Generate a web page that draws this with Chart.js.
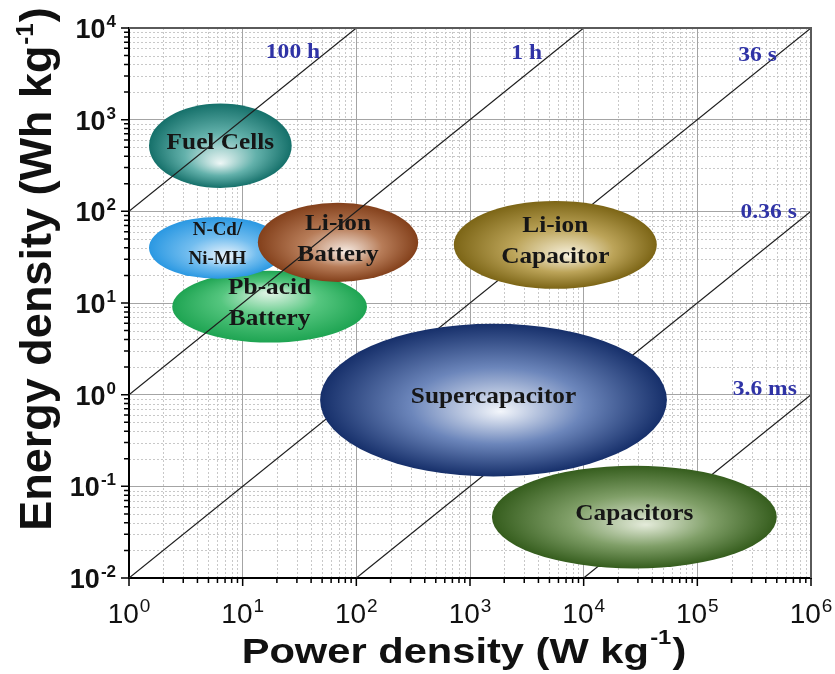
<!DOCTYPE html>
<html>
<head>
<meta charset="utf-8">
<title>Ragone plot</title>
<script src="https://cdn.jsdelivr.net/npm/chart.js@4.4.0/dist/chart.umd.min.js"></script>
<style>
  html, body { margin: 0; padding: 0; background: #fff; }
  #ragone { display: block; }
</style>
</head>
<body>
<canvas id="ragone" width="835" height="674"></canvas>
<script>
// ---- axes ----
const xDecades = [1, 10, 100, 1e3, 1e4, 1e5, 1e6];
const xTickExp = ['0', '1', '2', '3', '4', '5', '6'];
const yDecades = [0.01, 0.1, 1, 10, 100, 1e3, 1e4];
const yTickExp = ['-2', '-1', '0', '1', '2', '3', '4'];

// ---- constant discharge time lines (W/kg , Wh/kg) ----
const timeLabels = ['100 h', '1 h', '36 s', '0.36 s', '3.6 ms'];
const lineStartP = [1, 1, 1, 100, 1e4];
const lineStartE = [100, 1, 0.01, 0.01, 0.01];
const lineEndP   = [100, 1e4, 1e6, 1e6, 1e6];
const lineEndE   = [1e4, 1e4, 1e4, 100, 1];
// anchor of each time label (right edge, middle)
const timeLabelP = [48, 4300, 5e5, 7.5e5, 7.5e5];
const timeLabelE = [5400, 5200, 4950, 96, 1.13];

// ---- device regions (ellipse extents) ----
const devices   = ['Fuel Cells', 'Pb-acid Battery', 'N-Cd/Ni-MH', 'Li-ion Battery', 'Li-ion Capacitor', 'Supercapacitor', 'Capacitors'];
const devLabels = [['Fuel Cells'], ['Pb-acid', 'Battery'], ['N-Cd/', 'Ni-MH'], ['Li-ion', 'Battery'], ['Li-ion', 'Capacitor'], ['Supercapacitor'], ['Capacitors']];
const powerMin  = [1.5, 2.4, 1.5, 13.6, 720, 48, 1560];
const powerMax  = [27, 124, 24, 350, 44000, 54000, 5e5];
const energyMin = [180, 3.7, 18.4, 17, 14.3, 0.128, 0.0127];
const energyMax = [1500, 22.5, 87, 124, 130, 5.95, 0.168];

// looks (same order as devices)
const devStyle = [
  { core: '#eef7f6', mid: '#63b1ab', edge: '#15706a', fx: 0.0, fy: 0.42, front: false },
  { core: '#e6f6ea', mid: '#55c67f', edge: '#1ea452', fx: 0.0, fy: -0.4, front: false },
  { core: '#f3f8fd', mid: '#72bdef', edge: '#2a98e2', fx: 0.15, fy: 0.3, front: false },
  { core: '#f7ece4', mid: '#b77c58', edge: '#83401b', fx: 0.1, fy: 0.25, front: false },
  { core: '#f9f3e0', mid: '#bca459', edge: '#7c6516', fx: 0.15, fy: 0.25, front: true },
  { core: '#f3f6fb', mid: '#6c86bb', edge: '#162f6a', fx: 0.04, fy: 0.15, front: true },
  { core: '#e4ebda', mid: '#809f68', edge: '#355d1d', fx: 0.08, fy: 0.15, front: true }
];

const TXT_SERIF = '"Liberation Serif", "Times New Roman", serif';
const TXT_SANS = '"Liberation Sans", Arial, sans-serif';

function stretchText(ctx, txt, x, y, sx) {
  ctx.save();
  ctx.translate(x, y);
  ctx.scale(sx, 1);
  ctx.fillText(txt, 0, 0);
  ctx.restore();
}

function drawDevice(chart, i) {
  const ctx = chart.ctx, xs = chart.scales.x, ys = chart.scales.y;
  const x1 = xs.getPixelForValue(powerMin[i]), x2 = xs.getPixelForValue(powerMax[i]);
  const y1 = ys.getPixelForValue(energyMax[i]), y2 = ys.getPixelForValue(energyMin[i]);
  const cx = (x1 + x2) / 2, cy = (y1 + y2) / 2;
  const rx = (x2 - x1) / 2, ry = (y2 - y1) / 2;
  const st = devStyle[i];

  ctx.save();
  ctx.translate(cx, cy);
  ctx.scale(rx, ry);
  const g = ctx.createRadialGradient(st.fx, st.fy, 0, 0, 0, 1);
  g.addColorStop(0, st.core);
  g.addColorStop(0.5, st.mid);
  g.addColorStop(1, st.edge);
  ctx.beginPath();
  ctx.arc(0, 0, 1, 0, Math.PI * 2);
  ctx.fillStyle = g;
  ctx.fill();
  ctx.restore();

  // label
  const lines = devLabels[i];
  const small = devices[i] === 'N-Cd/Ni-MH';
  ctx.save();
  ctx.font = 'bold ' + (small ? 18 : 23) + 'px ' + TXT_SERIF;
  ctx.fillStyle = '#161616';
  ctx.textAlign = 'center';
  ctx.textBaseline = 'middle';
  const gap = small ? 29 : 31;
  const top = cy - 3 - gap * (lines.length - 1) / 2;
  lines.forEach((t, k) => stretchText(ctx, t, cx, top + k * gap, small ? 1.05 : 1.1));
  ctx.restore();
}

const ragonePlugin = {
  id: 'ragone',
  beforeDraw(chart) {
    // minor dotted grid
    const ctx = chart.ctx, a = chart.chartArea, xs = chart.scales.x, ys = chart.scales.y;
    ctx.save();
    ctx.strokeStyle = '#c8c8c8';
    ctx.lineWidth = 1;
    ctx.setLineDash([2, 2]);
    ctx.beginPath();
    xDecades.slice(0, -1).forEach(d => {
      for (let m = 2; m <= 9; m++) {
        const px = Math.round(xs.getPixelForValue(d * m)) + 0.5;
        ctx.moveTo(px, a.top); ctx.lineTo(px, a.bottom);
      }
    });
    yDecades.slice(0, -1).forEach(d => {
      for (let m = 2; m <= 9; m++) {
        const py = Math.round(ys.getPixelForValue(d * m)) + 0.5;
        ctx.moveTo(a.left, py); ctx.lineTo(a.right, py);
      }
    });
    ctx.stroke();
    ctx.restore();
  },
  beforeDatasetsDraw(chart) {
    devices.forEach((d, i) => { if (!devStyle[i].front) drawDevice(chart, i); });
  },
  afterDatasetsDraw(chart) {
    devices.forEach((d, i) => { if (devStyle[i].front) drawDevice(chart, i); });
  },
  afterDraw(chart) {
    const ctx = chart.ctx, a = chart.chartArea, xs = chart.scales.x, ys = chart.scales.y;

    // top / right frame
    ctx.save();
    ctx.strokeStyle = '#5a5a5a';
    ctx.lineWidth = 2;
    ctx.beginPath();
    ctx.moveTo(a.left, a.top); ctx.lineTo(a.right, a.top); ctx.lineTo(a.right, a.bottom);
    ctx.stroke();

    // outward tick marks
    ctx.strokeStyle = '#000';
    ctx.lineWidth = 1.5;
    ctx.beginPath();
    xDecades.forEach((d, k) => {
      const reps = k < xDecades.length - 1 ? 9 : 1;
      for (let m = 1; m <= reps; m++) {
        const px = xs.getPixelForValue(d * m);
        ctx.moveTo(px, a.bottom); ctx.lineTo(px, a.bottom + (m === 1 ? 8 : 5));
      }
    });
    yDecades.forEach((d, k) => {
      const reps = k < yDecades.length - 1 ? 9 : 1;
      for (let m = 1; m <= reps; m++) {
        const py = ys.getPixelForValue(d * m);
        ctx.moveTo(a.left, py); ctx.lineTo(a.left - (m === 1 ? 8 : 5), py);
      }
    });
    ctx.stroke();

    // x tick labels 10^n
    ctx.fillStyle = '#111';
    ctx.textBaseline = 'alphabetic';
    ctx.textAlign = 'left';
    xDecades.forEach((d, k) => {
      const px = xs.getPixelForValue(d);
      ctx.font = '28px ' + TXT_SANS;
      const w1 = ctx.measureText('10').width;
      ctx.font = '19px ' + TXT_SANS;
      const w2 = ctx.measureText(xTickExp[k]).width;
      const x0 = px - (w1 + w2 + 1) / 2;
      ctx.font = '28px ' + TXT_SANS;
      ctx.fillText('10', x0, a.bottom + 45);
      ctx.font = '19px ' + TXT_SANS;
      ctx.fillText(xTickExp[k], x0 + w1 + 1, a.bottom + 34);
    });

    // y tick labels 10^n
    ctx.textAlign = 'right';
    yDecades.forEach((d, k) => {
      const py = ys.getPixelForValue(d);
      ctx.font = 'bold 17px ' + TXT_SANS;
      const w2 = ctx.measureText(yTickExp[k]).width;
      const right = a.left - 13;
      ctx.fillText(yTickExp[k], right, py - 1);
      ctx.font = 'bold 27px ' + TXT_SANS;
      ctx.fillText('10', right - w2 - 1, py + 10);
    });

    // time labels
    ctx.font = 'bold 21px ' + TXT_SERIF;
    ctx.fillStyle = '#2f33a6';
    ctx.textBaseline = 'middle';
    timeLabels.forEach((t, k) => {
      const px = xs.getPixelForValue(timeLabelP[k]);
      const py = ys.getPixelForValue(timeLabelE[k]);
      ctx.save();
      ctx.translate(px, py);
      ctx.scale(1.12, 1);
      ctx.textAlign = 'right';
      ctx.fillText(t, 0, 0);
      ctx.restore();
    });

    // x axis title: Power density (W kg^-1)
    ctx.fillStyle = '#111';
    ctx.textBaseline = 'alphabetic';
    ctx.textAlign = 'left';
    const xMain = 'Power density (W kg', xSup = '-1', xEnd = ')';
    ctx.font = 'bold 35px ' + TXT_SANS;
    const wa = ctx.measureText(xMain).width, wc = ctx.measureText(xEnd).width;
    ctx.font = 'bold 20px ' + TXT_SANS;
    const wb = ctx.measureText(xSup).width;
    const sx = 1.19;
    const totalX = (wa + wb + wc + 2) * sx;
    ctx.save();
    ctx.translate(464 - totalX / 2 + (a.left - 129), a.bottom + 85);
    ctx.scale(sx, 1);
    ctx.font = 'bold 35px ' + TXT_SANS;
    ctx.fillText(xMain, 0, 0);
    ctx.font = 'bold 20px ' + TXT_SANS;
    ctx.fillText(xSup, wa + 1, -19);
    ctx.font = 'bold 35px ' + TXT_SANS;
    ctx.fillText(xEnd, wa + wb + 2, 0);
    ctx.restore();

    // y axis title: Energy density (Wh kg^-1)
    const yMain = 'Energy density (Wh kg', ySup = '-1', yEnd = ')';
    ctx.font = 'bold 45px ' + TXT_SANS;
    const ya = ctx.measureText(yMain).width, yc = ctx.measureText(yEnd).width;
    ctx.font = 'bold 24px ' + TXT_SANS;
    const yb = ctx.measureText(ySup).width;
    const totalY = ya + yb + yc + 2;
    ctx.save();
    ctx.translate(51, 269 + totalY / 2);
    ctx.rotate(-Math.PI / 2);
    ctx.font = 'bold 45px ' + TXT_SANS;
    ctx.fillText(yMain, 0, 0);
    ctx.font = 'bold 24px ' + TXT_SANS;
    ctx.fillText(ySup, ya + 1, -18);
    ctx.font = 'bold 45px ' + TXT_SANS;
    ctx.fillText(yEnd, ya + yb + 2, 0);
    ctx.restore();

    ctx.restore();
  }
};

const datasets = timeLabels.map((t, i) => ({
  label: t,
  data: [{ x: lineStartP[i], y: lineStartE[i] }, { x: lineEndP[i], y: lineEndE[i] }],
  borderColor: '#1e1e1e',
  borderWidth: 1.2,
  pointRadius: 0,
  fill: false,
  tension: 0
}));

new Chart(document.getElementById('ragone'), {
  type: 'line',
  data: { datasets },
  options: {
    responsive: false,
    animation: false,
    devicePixelRatio: 1,
    layout: { padding: { left: 129, right: 24, top: 28, bottom: 96 } },
    plugins: { legend: { display: false }, tooltip: { enabled: false } },
    scales: {
      x: {
        type: 'logarithmic',
        min: 1, max: 1e6,
        afterBuildTicks: s => { s.ticks = xDecades.map(v => ({ value: v, major: true })); },
        ticks: { display: false },
        grid: { color: '#a4a4a4', lineWidth: 1, drawTicks: false },
        border: { color: '#000', width: 2 }
      },
      y: {
        type: 'logarithmic',
        min: 0.01, max: 1e4,
        afterBuildTicks: s => { s.ticks = yDecades.map(v => ({ value: v, major: true })); },
        ticks: { display: false },
        grid: { color: '#a4a4a4', lineWidth: 1, drawTicks: false },
        border: { color: '#000', width: 2 }
      }
    }
  },
  plugins: [ragonePlugin]
});
</script>
</body>
</html>
